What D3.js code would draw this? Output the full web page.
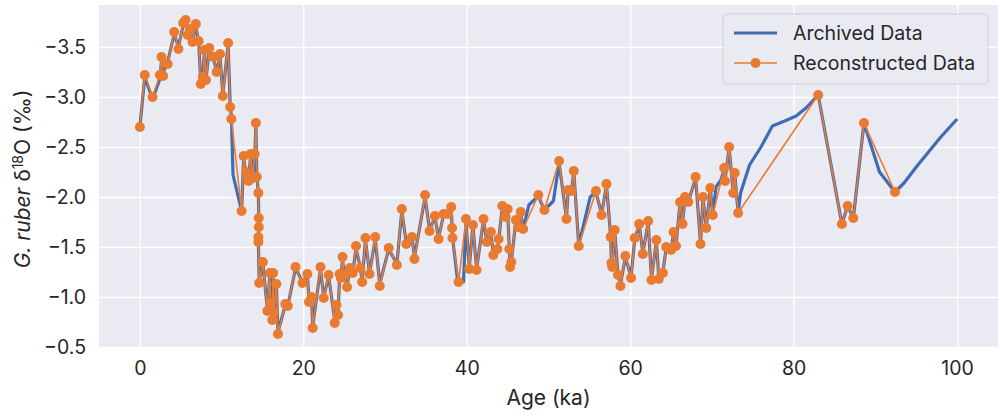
<!DOCTYPE html>
<html>
<head>
<meta charset="utf-8">
<script src="https://cdn.jsdelivr.net/npm/d3@7"></script>
<style>
  body { margin: 0; background: #fff; }
  text { font-family: Inter, "Liberation Sans", Arial, sans-serif; fill: #262626; }
</style>
</head>
<body>
<svg id="chart" width="1000" height="416"></svg>
<script>
// reconstructed record: [age (ka), d18O (permil)]
const reconstructed = [
  [0.0,-2.70],[0.6,-3.22],[1.55,-3.00],[2.45,-3.22],[2.65,-3.40],[2.85,-3.21],[3.4,-3.33],
  [4.2,-3.65],[4.72,-3.48],[5.3,-3.74],[5.6,-3.77],[5.85,-3.62],[6.1,-3.68],[6.45,-3.55],
  [6.85,-3.73],[7.2,-3.56],[7.45,-3.13],[7.7,-3.20],[7.9,-3.47],[8.1,-3.17],[8.5,-3.49],
  [9.0,-3.40],[9.4,-3.25],[9.8,-3.43],[10.15,-3.01],[10.8,-3.54],[11.05,-2.90],[11.2,-2.78],
  [12.45,-1.86],[12.7,-2.41],[13.0,-2.25],[13.3,-2.16],[13.55,-2.43],[13.8,-2.19],[14.05,-2.43],
  [14.2,-2.74],[14.3,-2.20],[14.5,-2.04],[14.55,-1.79],[14.55,-1.70],[14.5,-1.60],[14.5,-1.55],
  [14.6,-1.14],[15.05,-1.35],[15.6,-0.86],[15.9,-1.24],[16.0,-0.94],[16.2,-0.77],[16.3,-1.24],
  [16.4,-0.85],[16.7,-1.13],[16.9,-0.63],[17.8,-0.93],[18.1,-0.91],[19.05,-1.30],[19.9,-1.14],
  [20.5,-1.23],[20.7,-0.95],[21.0,-1.00],[21.15,-0.69],[22.1,-1.30],[22.5,-0.99],[23.1,-1.22],
  [23.85,-0.74],[24.05,-0.92],[24.25,-0.82],[24.45,-1.23],[24.6,-1.19],[24.8,-1.40],[25.0,-1.22],
  [25.35,-1.10],[25.7,-1.29],[26.05,-1.24],[26.45,-1.51],[26.98,-1.29],[27.2,-1.15],[27.6,-1.59],
  [28.1,-1.23],[28.8,-1.60],[29.35,-1.11],[30.45,-1.49],[31.45,-1.32],[32.05,-1.88],[32.6,-1.53],
  [33.3,-1.60],[33.6,-1.38],[34.9,-2.02],[35.45,-1.66],[36.1,-1.81],[36.55,-1.58],[37.15,-1.83],
  [37.7,-1.83],[38.1,-1.90],[38.2,-1.69],[38.25,-1.59],[39.0,-1.15],[39.9,-1.78],[40.3,-1.28],
  [40.75,-1.72],[41.2,-1.27],[42.05,-1.78],[42.45,-1.55],[42.95,-1.65],[43.25,-1.42],[43.75,-1.48],
  [43.9,-1.58],[44.35,-1.91],[44.75,-1.80],[45.0,-1.88],[45.2,-1.48],[45.3,-1.30],[45.45,-1.35],
  [46.0,-1.77],[46.3,-1.70],[46.6,-1.85],[46.9,-1.68],[48.75,-2.02],[49.5,-1.87],[51.3,-2.36],
  [52.2,-1.78],[52.4,-2.07],[52.8,-2.06],[53.1,-2.26],[53.7,-1.51],[55.8,-2.06],[56.5,-1.82],
  [57.1,-2.13],[57.6,-1.60],[57.7,-1.34],[57.8,-1.30],[58.1,-1.67],[58.5,-1.22],[58.8,-1.11],
  [59.4,-1.41],[60.1,-1.19],[60.55,-1.59],[61.1,-1.73],[61.55,-1.43],[62.2,-1.76],[62.6,-1.17],
  [63.2,-1.57],[63.5,-1.18],[64.0,-1.24],[64.4,-1.50],[65.0,-1.47],[65.3,-1.65],[65.6,-1.51],
  [66.1,-1.95],[66.4,-1.73],[66.7,-2.00],[67.1,-1.95],[68.0,-2.20],[68.6,-1.53],[68.9,-2.00],
  [69.3,-1.69],[69.8,-2.09],[70.1,-1.82],[71.5,-2.29],[71.6,-2.16],[72.1,-2.50],[72.6,-2.04],
  [72.8,-2.24],[73.2,-1.84],[83.0,-3.02],[85.9,-1.73],[86.6,-1.91],[87.3,-1.79],[88.6,-2.74],
  [92.4,-2.05]
];

// archived record: [age (ka), d18O (permil)]
const archived = [
  [0.0,-2.70],[0.6,-3.20],[1.55,-2.98],[2.45,-3.18],[2.65,-3.36],[2.85,-3.24],[3.4,-3.35],
  [4.2,-3.63],[4.72,-3.50],[5.3,-3.72],[5.6,-3.76],[5.85,-3.64],[6.1,-3.66],[6.45,-3.56],
  [6.85,-3.71],[7.2,-3.55],[7.45,-3.15],[7.7,-3.22],[7.9,-3.45],[8.1,-3.19],[8.5,-3.47],
  [9.0,-3.38],[9.4,-3.26],[9.8,-3.41],[10.15,-3.03],[10.8,-3.52],[11.05,-2.92],[11.2,-2.80],
  [11.4,-2.22],[12.45,-1.86],[12.7,-2.39],[13.0,-2.23],[13.3,-2.17],[13.55,-2.41],[13.8,-2.20],
  [14.05,-2.41],[14.2,-2.72],[14.3,-2.22],[14.5,-2.04],[14.55,-1.79],[14.55,-1.70],[14.5,-1.60],
  [14.5,-1.55],[14.6,-1.16],[15.05,-1.33],[15.6,-0.88],[15.9,-1.22],[16.0,-0.95],[16.2,-0.79],
  [16.3,-1.22],[16.4,-0.86],[16.7,-1.11],[16.9,-0.65],[17.8,-0.92],[18.1,-0.91],[19.05,-1.29],
  [19.9,-1.15],[20.5,-1.22],[20.7,-0.96],[21.0,-1.00],[21.15,-0.71],[22.1,-1.28],[22.5,-1.00],
  [23.1,-1.21],[23.85,-0.76],[24.05,-0.92],[24.25,-0.83],[24.45,-1.22],[24.6,-1.19],[24.8,-1.38],
  [25.0,-1.22],[25.35,-1.11],[25.7,-1.28],[26.05,-1.24],[26.45,-1.49],[26.98,-1.29],[27.2,-1.16],
  [27.6,-1.57],[28.1,-1.24],[28.8,-1.58],[29.35,-1.13],[30.45,-1.48],[31.45,-1.33],[32.05,-1.86],
  [32.6,-1.54],[33.3,-1.59],[33.6,-1.40],[34.9,-2.00],[35.45,-1.67],[36.1,-1.80],[36.55,-1.59],
  [37.15,-1.82],[37.7,-1.83],[38.1,-1.89],[38.2,-1.70],[38.25,-1.60],[38.9,-1.15],[39.6,-1.15],
  [39.9,-1.76],[40.3,-1.29],[40.75,-1.71],[41.2,-1.28],[42.05,-1.77],[42.45,-1.56],[42.95,-1.64],
  [43.25,-1.43],[43.75,-1.48],[43.9,-1.57],[44.35,-1.90],[44.75,-1.80],[45.0,-1.87],[45.2,-1.49],
  [45.3,-1.31],[45.45,-1.35],[46.0,-1.76],[46.3,-1.71],[46.6,-1.84],[46.9,-1.68],[47.6,-1.92],
  [48.75,-2.01],[49.5,-1.87],[50.6,-1.96],[51.3,-2.34],[52.2,-1.79],[52.4,-2.06],[52.8,-2.06],
  [53.1,-2.25],[53.7,-1.52],[55.1,-2.00],[55.8,-2.05],[56.5,-1.83],[57.1,-2.12],[57.6,-1.61],
  [57.7,-1.35],[57.8,-1.31],[58.1,-1.66],[58.5,-1.23],[58.8,-1.12],[59.4,-1.40],[60.1,-1.20],
  [60.55,-1.58],[61.1,-1.72],[61.55,-1.44],[62.2,-1.75],[62.6,-1.18],[63.2,-1.56],[63.5,-1.19],
  [64.0,-1.25],[64.4,-1.49],[65.0,-1.47],[65.3,-1.64],[65.6,-1.52],[66.1,-1.94],[66.4,-1.74],
  [66.7,-1.99],[67.1,-1.95],[68.0,-2.19],[68.6,-1.54],[68.9,-1.99],[69.3,-1.70],[69.8,-2.08],
  [70.1,-1.83],[70.5,-2.10],[71.1,-2.17],[71.5,-2.28],[71.6,-2.17],[72.1,-2.49],[72.6,-2.05],
  [72.8,-2.23],[73.2,-1.84],[73.5,-2.04],[74.6,-2.32],[76.0,-2.50],[77.4,-2.71],[78.9,-2.76],
  [80.3,-2.81],[81.5,-2.89],[83.0,-3.02],[85.9,-1.73],[86.6,-1.91],[87.3,-1.79],[88.6,-2.74],
  [90.5,-2.25],[92.4,-2.05],[93.5,-2.14],[95.0,-2.30],[96.5,-2.45],[98.0,-2.60],[100.0,-2.78]
];

const xTicks = [0, 20, 40, 60, 80, 100];
const yTicks = [-3.5, -3.0, -2.5, -2.0, -1.5, -1.0, -0.5];
const seriesNames = ['Archived Data', 'Reconstructed Data'];

const blue = '#3F6DB3';
const orange = '#E97B31';

const svg = d3.select('#chart');
const plot = { left: 99, right: 998, top: 5, bottom: 347 };

const x = d3.scaleLinear().domain([-5, 105]).range([plot.left, plot.right]);
const y = d3.scaleLinear().domain([-0.5, -3.92]).range([plot.bottom, plot.top]);

// background
svg.append('rect')
  .attr('x', plot.left).attr('y', plot.top)
  .attr('width', plot.right - plot.left).attr('height', plot.bottom - plot.top)
  .attr('fill', '#EAEAF2');

// grid + tick labels
const xAxis = d3.axisBottom(x).tickValues(xTicks).tickSize(-(plot.bottom - plot.top)).tickPadding(14).tickFormat(d3.format('d'));
const yAxis = d3.axisLeft(y).tickValues(yTicks).tickSize(-(plot.right - plot.left)).tickPadding(13)
  .tickFormat(d => d3.format('.1f')(d).replace('-', '\u2212'));

const gx = svg.append('g').attr('transform', `translate(0,${plot.bottom})`).call(xAxis);
const gy = svg.append('g').attr('transform', `translate(${plot.left},0)`).call(yAxis);
[gx, gy].forEach(g => {
  g.select('.domain').remove();
  g.selectAll('.tick line').attr('stroke', '#fff').attr('stroke-width', 1.3);
  g.selectAll('.tick text').attr('font-size', 19.5).attr('fill', '#262626')
    .style('font-family', 'Inter, "Liberation Sans", Arial, sans-serif');
});

// lines
const line = d3.line().x(d => x(d[0])).y(d => y(d[1]));

svg.append('path')
  .attr('d', line(archived))
  .attr('fill', 'none').attr('stroke', blue).attr('stroke-width', 3.2)
  .attr('stroke-linejoin', 'round');

svg.append('path')
  .attr('d', line(reconstructed))
  .attr('fill', 'none').attr('stroke', orange).attr('stroke-width', 1.6)
  .attr('stroke-linejoin', 'round');

svg.append('g').selectAll('circle')
  .data(reconstructed)
  .join('circle')
  .attr('cx', d => x(d[0])).attr('cy', d => y(d[1]))
  .attr('r', 5).attr('fill', orange);

// axis titles
svg.append('text')
  .attr('x', (x(0) + x(100)) / 2).attr('y', 405)
  .attr('text-anchor', 'middle').attr('font-size', 21)
  .text('Age (ka)');

const ylab = svg.append('text')
  .attr('transform', 'translate(30,179) rotate(-90)')
  .attr('text-anchor', 'middle').attr('font-size', 21);
ylab.append('tspan').attr('font-style', 'italic').text('G. ruber');
ylab.append('tspan').text(' \u03B4');
ylab.append('tspan').attr('font-size', 14).attr('dy', -7).text('18');
ylab.append('tspan').attr('dy', 7).text('O (\u2030)');

// legend
const legend = svg.append('g');
legend.append('rect')
  .attr('x', 723).attr('y', 14).attr('width', 265).attr('height', 70).attr('rx', 4)
  .attr('fill', '#EAEAF2').attr('fill-opacity', 0.8).attr('stroke', '#cfcfd6');

const items = legend.selectAll('g.item').data(seriesNames).join('g')
  .attr('transform', (d, i) => `translate(0,${33 + i * 30})`);
items.append('line')
  .attr('x1', 734).attr('x2', 777)
  .attr('stroke', (d, i) => i === 0 ? blue : orange)
  .attr('stroke-width', (d, i) => i === 0 ? 3.2 : 1.6);
items.filter((d, i) => i === 1).append('circle')
  .attr('cx', 755.5).attr('r', 5).attr('fill', orange);
items.append('text')
  .attr('x', 793).attr('dy', '0.35em').attr('font-size', 19.5)
  .text(d => d);
</script>
</body>
</html>
